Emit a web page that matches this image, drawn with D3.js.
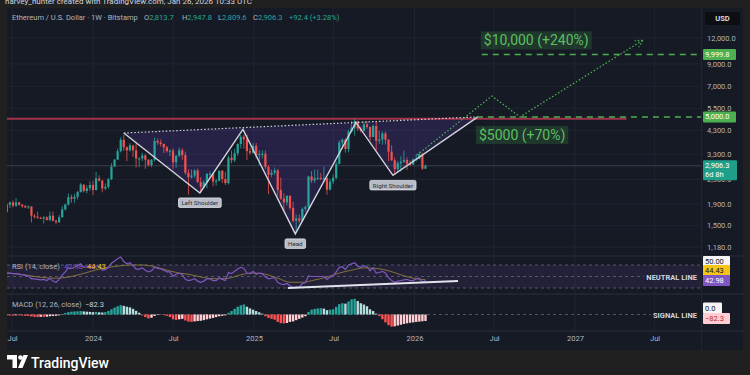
<!DOCTYPE html>
<html>
<head>
<meta charset="utf-8">
<script src="https://cdn.jsdelivr.net/npm/d3@7"></script>
<style>
  html, body { margin: 0; padding: 0; background: #202020; }
  svg { display: block; font-family: Roboto, 'Noto Sans', sans-serif; }
</style>
</head>
<body>
<svg id="chart" width="750" height="375"></svg>
<script>
// Weekly candles, ETH / USD on Bitstamp (open of each week = close of the week before)
var firstWeek = '2023-06-19';
var firstOpen = 1738;
var closes = [1888,1934,1869,1935,1890,1857,1830,1850,1670,1650,1630,1620,1640,1595,1670,1580,1555,1640,1790,1890,2050,2015,2060,2170,2360,2195,2265,2350,
  2220,2525,2465,2260,2300,2505,2880,3110,3420,3880,3570,3450,3645,3450,3150,3150,3260,3110,2930,3110,3830,3760,3700,3565,3420,3440,3020,3250,3450,3270,2690,2560,2610,2760,2430,2300,2420,2660,2660,2440,2460,2750,2510,2400,3180,3090,3340,3700,4010,3900,3420,3360,3630,
  3270,3310,3320,2870,2630,2690,2760,2220,2020,1935,2080,1820,1580,1620,1580,1800,1840,2580,2470,2530,2540,2510,2530,2230,2440,2540,2970,3760,3880,3500,4250,4440,4780,4390,4280,4600,4470,4000,4520,3830,3890,4160,3880,3400,3090,2800,2990,3040,3100,2970,2950,3120,
  3140,3300,2813.7,2906.3];
var highs = [1930,1955,1975,2030,1950,1890,1880,1870,1850,1700,1745,1650,1660,1660,1750,1745,1600,1680,1860,1910,2135,2110,2130,2200,2400,2360,2340,2445,
  2460,2715,2610,2490,2390,2540,2990,3130,3520,3990,4093,3600,3730,3660,3730,3200,3360,3320,3120,3130,3975,3930,3890,3720,3620,3480,3520,3260,3560,3540,3400,2800,2790,2800,2820,2560,2470,2670,2730,2680,2520,2760,2770,2720,3250,3440,3500,3730,4090,4110,4110,3550,3745,
  3745,3450,3450,3440,2930,2790,2850,2810,2550,2140,2100,2100,1950,1690,1690,1830,1870,2600,2740,2790,2790,2680,2880,2560,2520,2640,3050,3860,3940,3940,4330,4790,4880,4790,4490,4770,4770,4490,4590,4760,4290,4250,4250,3910,3650,3190,3070,3230,3440,3190,3080,3160,
  3300,3400,3350,2947.8];
var lows = [1728,1820,1830,1840,1860,1820,1815,1800,1550,1620,1615,1610,1530,1580,1570,1565,1520,1540,1640,1770,1870,1930,1930,2000,2160,2160,2140,2200,
  2100,2210,2440,2165,2215,2260,2480,2880,3110,3370,3430,3060,3400,3210,2850,2860,3060,2810,2880,2860,3050,3670,3600,3350,3360,3240,2810,2840,3200,3100,2630,2110,2520,2540,2400,2150,2250,2260,2550,2310,2330,2450,2400,2350,2360,2990,3030,3250,3520,3510,3100,3290,3320,
  3160,2920,3150,2800,2120,2560,2620,2080,1990,1750,1870,1780,1550,1385,1540,1560,1750,1790,2400,2400,2480,2480,2440,2110,2210,2370,2500,2950,3500,3360,3370,4200,4060,4270,4200,4270,4380,3820,4000,3440,3700,3680,3680,3060,3060,2620,2690,2720,3000,2780,2900,2930,
  3050,3120,2780,2809.6];

// RSI (14, close), one value per week, and its moving average read every 4th week
var rsiValues = [56,56,55,55,54,53,52,51,46,46,45,44,45,43,47,42,40,45,53,58,65,64,66,69,72,66,67,68,
  64,69,67,61,62,66,73,77,81,84,76,72,74,69,63,63,65,61,58,60,66,64,63,61,58,58,50,54,56,53,45,43,44,46,42,40,42,46,46,43,43,48,45,43,57,55,59,63,66,64,56,55,59,
  54,56,55,49,46,47,48,40,37,36,38,34,30,32,31,38,39,51,50,50,50,50,50,45,49,51,58,66,67,62,70,72,74,68,66,69,67,60,65,56,57,59,56,48,43,40,42,43,44,45,43,43,
  46,47,40,42.98];
var rsiMaWeeks = [0,4,8,12,16,20,24,28,32,36,40,44,48,52,56,60,64,68,72,76,80,84,88,92,96,100,104,108,112,116,120,124,128,132,136];
var rsiMaValues = [56,54,51,48,47,49,54,60,65,68,70,70,67,61,56,53,48,46,47,53,56,54,47,40,40,44,49,56,61,65,64,60,53,47,44.43];

// MACD (12, 26, close) histogram, one value per week
var macdHist = [-11,-14,-14,-11,-11,-14,-17,-19,-25,-30,-33,-30,-30,-28,-22,-19,-17,-11,6,19,30,36,39,41,44,39,36,33,
  30,33,28,25,30,44,66,88,105,119,110,99,91,72,47,22,-11,-33,-50,-41,-19,-6,-3,-8,-17,-33,-61,-69,-61,-55,-77,-91,-94,-88,-83,-80,-72,-61,-52,-44,-33,-22,-17,-11,22,44,72,99,116,127,99,77,61,
  44,28,11,-22,-44,-55,-66,-94,-110,-113,-108,-94,-88,-72,-55,-39,-22,33,61,72,77,80,75,55,61,66,97,132,143,138,166,193,199,171,143,127,105,66,44,11,-20,-60,-100,-135,-155,-150,-140,-130,-120,-112,-105,-100,
  -95,-90,-86,-82.3];

var priceTicks = [12000, 9000, 7000, 5500, 4300, 3300, 2500, 1900, 1500, 1180];
var timeTicks = ['2023-07-01','2024-01-01','2024-07-01','2025-01-01','2025-07-01','2026-01-01','2026-07-01','2027-01-01','2027-07-01'];

// Drawings on the chart (date, price)
var patternPoints = [['2024-03-11',4180],['2024-08-31',2150],['2024-12-07',4350],['2025-04-05',1365],['2025-08-21',4700],['2025-11-13',2612],['2026-05-25',5000]];
var patternLabels = [['Left Shoulder',1],['Head',3],['Right Shoulder',5]];
var projectionPoints = [['2026-01-07',3280],['2026-06-26',6300],['2026-08-29',5000],['2027-06-04',11700]];
var targetLevels = [10000, 5000];
var targetStarts = ['2026-06-03', '2026-05-23'];
var targetTexts = ['$10,000 (+240%)', '$5000 (+70%)'];
var resistanceLevel = 4900;
var resistanceEnd = '2027-04-28';
var rsiTrend = [['2025-03-19', 30], ['2026-04-10', 42.2]];
var lastPrice = 2906.3;

var parse = d3.utcParse('%Y-%m-%d');
var svg = d3.select('#chart');

var left = 7, right = 701, panelRight = 743;
var mainTop = 8, mainBottom = 256, rsiBottom = 294, macdBottom = 331, panelBottom = 350;

// scales
var x = d3.scaleUtc().domain([parse('2024-01-01'), parse('2027-01-01')]).range([93, 575]);
var y = d3.scaleLog().domain([1180, 12000]).range([247, 38]);
var yRsi = d3.scaleLinear().domain([30, 70]).range([288, 265]);
var yMacd = d3.scaleLinear().domain([0, 127]).range([314.5, 304.5]);

var start = parse(firstWeek);
var weeks = d3.utcMonday.range(start, d3.utcDay.offset(start, 7 * closes.length));
var candles = weeks.map(function(d, i) {
    return { date: d, open: i ? closes[i - 1] : firstOpen, high: highs[i], low: lows[i], close: closes[i] };
});

// background
svg.append('rect').attr('width', 750).attr('height', 375).attr('fill', '#202020');
svg.append('rect').attr('x', left).attr('y', mainTop).attr('width', panelRight - left)
    .attr('height', panelBottom - mainTop).attr('fill', '#161a25');

svg.append('text').attr('x', 5).attr('y', 3.5).attr('font-size', 8).attr('fill', '#d1d4dc')
    .text('harvey_hunter created with TradingView.com, Jan 26, 2026 10:33 UTC');

var defs = svg.append('defs');
defs.append('clipPath').attr('id', 'clipMain').append('rect')
    .attr('x', left).attr('y', mainTop).attr('width', right - left).attr('height', mainBottom - mainTop);
defs.append('clipPath').attr('id', 'clipRsi').append('rect')
    .attr('x', left).attr('y', mainBottom).attr('width', right - left).attr('height', rsiBottom - mainBottom);
defs.append('clipPath').attr('id', 'clipMacd').append('rect')
    .attr('x', left).attr('y', rsiBottom).attr('width', right - left).attr('height', macdBottom - rsiBottom);

// grid
var grid = svg.append('g').attr('stroke', '#1f2431').attr('stroke-width', 1);
grid.selectAll('.vgrid').data(timeTicks).enter().append('line')
    .attr('x1', d => x(parse(d))).attr('x2', d => x(parse(d)))
    .attr('y1', mainTop).attr('y2', macdBottom);
grid.selectAll('.hgrid').data(priceTicks).enter().append('line')
    .attr('x1', left).attr('x2', right).attr('y1', d => y(d)).attr('y2', d => y(d));

// pane separators
svg.selectAll('.sep').data([mainBottom, rsiBottom, macdBottom]).enter().append('line')
    .attr('x1', left).attr('x2', panelRight).attr('y1', d => d).attr('y2', d => d)
    .attr('stroke', '#2a2e39');
svg.append('line').attr('x1', right + 0.5).attr('x2', right + 0.5).attr('y1', mainTop).attr('y2', panelBottom)
    .attr('stroke', '#222633');

var main = svg.append('g').attr('clip-path', 'url(#clipMain)');

// last price line
main.append('line').attr('x1', left).attr('x2', right).attr('y1', y(lastPrice)).attr('y2', y(lastPrice))
    .attr('stroke', '#3a3f4d').attr('stroke-width', 1);

// head and shoulders fill
var pts = patternPoints.map(p => [x(parse(p[0])), y(p[1])]);
main.append('path').attr('d', d3.line()(pts) + 'Z').attr('fill', 'rgba(103,70,200,0.2)');

// resistance
main.append('line').attr('x1', left).attr('x2', x(parse(resistanceEnd)))
    .attr('y1', y(resistanceLevel)).attr('y2', y(resistanceLevel))
    .attr('stroke', '#a3324a').attr('stroke-width', 2);

// candles
var cg = main.append('g');
cg.selectAll('.wick').data(candles).enter().append('line')
    .attr('x1', d => x(d.date)).attr('x2', d => x(d.date))
    .attr('y1', d => y(d.high)).attr('y2', d => y(d.low))
    .attr('stroke', d => d.close >= d.open ? '#26a69a' : '#ef5350').attr('stroke-width', 0.8);
cg.selectAll('.body').data(candles).enter().append('rect')
    .attr('x', d => x(d.date) - 1.1).attr('width', 2.2)
    .attr('y', d => y(Math.max(d.open, d.close)))
    .attr('height', d => Math.max(1, Math.abs(y(d.open) - y(d.close))))
    .attr('fill', d => d.close >= d.open ? '#26a69a' : '#ef5350');

// pattern lines
main.append('path').attr('d', d3.line()([pts[0], pts[pts.length - 1]]))
    .attr('stroke', '#d1d4dc').attr('stroke-width', 1.2).attr('stroke-dasharray', '1.5,2').attr('fill', 'none');
main.append('path').attr('d', d3.line()(pts))
    .attr('stroke', '#d1d4dc').attr('stroke-width', 1.4).attr('fill', 'none');

// target levels
targetLevels.forEach(function(level, i) {
    main.append('line').attr('x1', x(parse(targetStarts[i]))).attr('x2', right)
        .attr('y1', y(level)).attr('y2', y(level))
        .attr('stroke', '#4caf50').attr('stroke-width', 1.5).attr('stroke-dasharray', '6,5');
});

// projected path
var proj = projectionPoints.map(p => [x(parse(p[0])), y(p[1])]);
main.append('path').attr('d', d3.line()(proj))
    .attr('stroke', '#4caf50').attr('stroke-width', 1.3).attr('stroke-dasharray', '1.5,2').attr('fill', 'none');
var tip = proj[proj.length - 1], prev = proj[proj.length - 2];
var ang = Math.atan2(tip[1] - prev[1], tip[0] - prev[0]);
[-0.5, 0.5].forEach(function(a) {
    main.append('line').attr('x1', tip[0]).attr('y1', tip[1])
        .attr('x2', tip[0] - 8 * Math.cos(ang + a)).attr('y2', tip[1] - 8 * Math.sin(ang + a))
        .attr('stroke', '#4caf50').attr('stroke-width', 1.3).attr('stroke-dasharray', '1.5,2');
});

// target labels
targetTexts.forEach(function(t, i) {
    var lx = x(parse(targetStarts[i])) - 1;
    var ly = i === 0 ? y(targetLevels[i]) - 14 : y(targetLevels[i]) + 18;
    var g = svg.append('g');
    var txt = g.append('text').attr('x', lx + 3).attr('y', ly + 5).attr('font-size', 14)
        .attr('fill', '#5cbf60').text(t);
    var w = txt.node().getComputedTextLength();
    g.insert('rect', 'text').attr('x', lx).attr('y', ly - 9).attr('width', w + 6).attr('height', 18)
        .attr('fill', 'rgba(76,175,80,0.2)');
});

// pattern labels
patternLabels.forEach(function(l) {
    var p = pts[l[1]];
    var g = svg.append('g');
    var txt = g.append('text').attr('x', p[0]).attr('y', p[1] + 12.2).attr('text-anchor', 'middle')
        .attr('font-size', 6.2).attr('fill', '#2a2e39').text(l[0]);
    var w = txt.node().getComputedTextLength();
    g.insert('rect', 'text').attr('x', p[0] - w / 2 - 3).attr('y', p[1] + 5).attr('width', w + 6).attr('height', 9.5)
        .attr('rx', 1.5).attr('fill', '#b9bcc4').attr('stroke', '#e0e3eb').attr('stroke-width', 0.8);
});

// RSI pane
var rsiG = svg.append('g').attr('clip-path', 'url(#clipRsi)');
rsiG.append('rect').attr('x', left).attr('width', right - left)
    .attr('y', yRsi(70)).attr('height', yRsi(30) - yRsi(70)).attr('fill', 'rgba(126,87,194,0.12)');
rsiG.selectAll('.band').data([70, 50, 30]).enter().append('line')
    .attr('x1', left).attr('x2', d => d === 50 ? 644 : right)
    .attr('y1', d => yRsi(d)).attr('y2', d => yRsi(d))
    .attr('stroke', '#787b86').attr('stroke-opacity', 0.6).attr('stroke-dasharray', '3,3');
rsiG.append('path').datum(rsiMaValues)
    .attr('d', d3.line().x((d, i) => x(weeks[rsiMaWeeks[i]])).y(d => yRsi(d)).curve(d3.curveMonotoneX))
    .attr('fill', 'none').attr('stroke', '#b3993a').attr('stroke-opacity', 0.75).attr('stroke-width', 0.9);
rsiG.append('path').datum(rsiValues)
    .attr('d', d3.line().x((d, i) => x(weeks[i])).y(d => yRsi(d)))
    .attr('fill', 'none').attr('stroke', '#7e57c2').attr('stroke-width', 1.2);
rsiG.append('line')
    .attr('x1', x(parse(rsiTrend[0][0]))).attr('y1', yRsi(rsiTrend[0][1]))
    .attr('x2', x(parse(rsiTrend[1][0]))).attr('y2', yRsi(rsiTrend[1][1]))
    .attr('stroke', '#e0e3eb').attr('stroke-width', 1.8);

var rsiTitle = svg.append('text').attr('x', 12).attr('y', 269).attr('font-size', 7.5).attr('fill', '#b2b5be');
rsiTitle.append('tspan').text('RSI (14, close) ');
rsiTitle.append('tspan').attr('x', 64).attr('fill', '#7e57c2').text(d3.format('.2f')(rsiValues[rsiValues.length - 1]));
rsiTitle.append('tspan').attr('x', 87).attr('fill', '#f5c518').text(d3.format('.2f')(rsiMaValues[rsiMaValues.length - 1]));

svg.append('text').attr('x', 697).attr('y', yRsi(50) + 3).attr('text-anchor', 'end')
    .attr('font-size', 7.5).attr('font-weight', 700).attr('fill', '#d1d4dc').text('NEUTRAL LINE');

// MACD pane
var macdG = svg.append('g').attr('clip-path', 'url(#clipMacd)');
macdG.append('line').attr('x1', left).attr('x2', 651).attr('y1', yMacd(0)).attr('y2', yMacd(0))
    .attr('stroke', '#787b86').attr('stroke-opacity', 0.6).attr('stroke-dasharray', '3,3');
macdG.selectAll('.hist').data(macdHist).enter().append('rect')
    .attr('x', (d, i) => x(weeks[i]) - 1.2).attr('width', 2.4)
    .attr('y', d => yMacd(Math.max(0, d)))
    .attr('height', d => Math.abs(yMacd(d) - yMacd(0)))
    .attr('fill', function(d, i) {
        var p = i ? macdHist[i - 1] : d;
        if (d >= 0) return d >= p ? '#26a69a' : '#b2dfdb';
        return d <= p ? '#ff5252' : '#ffcdd2';
    });

var macdTitle = svg.append('text').attr('x', 12).attr('y', 307).attr('font-size', 7.5).attr('fill', '#b2b5be');
macdTitle.append('tspan').text('MACD (12, 26, close)');
macdTitle.append('tspan').attr('x', 85).attr('fill', '#d1d4dc').text(d3.format('.1f')(macdHist[macdHist.length - 1]).replace('-', '\u2212'));

svg.append('text').attr('x', 697).attr('y', yMacd(0) + 3).attr('text-anchor', 'end')
    .attr('font-size', 7.5).attr('font-weight', 700).attr('fill', '#d1d4dc').text('SIGNAL LINE');

// axes
var xAxis = d3.axisBottom(x).tickValues(timeTicks.map(parse)).tickSize(0).tickPadding(4)
    .tickFormat(d => d.getUTCMonth() === 0 ? d.getUTCFullYear() : 'Jul');
svg.append('g').attr('transform', 'translate(0,' + (macdBottom + 1) + ')').call(xAxis)
    .call(g => g.select('.domain').remove())
    .selectAll('text').attr('font-size', 7.5).attr('fill', '#b2b5be').attr('font-family', 'Roboto, sans-serif');

var yAxis = d3.axisRight(y).tickValues(priceTicks).tickSize(0).tickPadding(0).tickFormat(d3.format(',.1f'));
svg.append('g').attr('transform', 'translate(707,0)').call(yAxis)
    .call(g => g.select('.domain').remove())
    .selectAll('text').attr('font-size', 7.5).attr('fill', '#b2b5be').attr('font-family', 'Roboto, sans-serif');

// price scale tags
function tag(yc, lines, bg, fg, w) {
    var h = lines.length * 9 + 2;
    var g = svg.append('g');
    g.append('rect').attr('x', 703).attr('y', yc - h / 2).attr('width', w).attr('height', h).attr('fill', bg).attr('rx', 1);
    lines.forEach(function(t, i) {
        g.append('text').attr('x', 705).attr('y', yc - h / 2 + 8 + i * 9).attr('font-size', 7.5)
            .attr('fill', fg).text(t);
    });
}
tag(y(targetLevels[0]), [d3.format(',.1f')(9999.8)], '#4caf50', '#ffffff', 33);
tag(y(targetLevels[1]), [d3.format(',.1f')(targetLevels[1])], '#4caf50', '#ffffff', 33);
tag(y(lastPrice) + 4.5, [d3.format(',.1f')(lastPrice), '6d 8h'], '#1f9f8a', '#ffffff', 34);
tag(261.5, ['50.00'], '#f5f5f5', '#131722', 27);
tag(270.5, [d3.format('.2f')(rsiMaValues[rsiMaValues.length - 1])], '#f5c518', '#131722', 27);
tag(280.5, [d3.format('.2f')(rsiValues[rsiValues.length - 1])], '#7e57c2', '#ffffff', 27);
tag(308, ['0.0'], '#f5f5f5', '#131722', 19);
tag(318.5, [d3.format('.1f')(macdHist[macdHist.length - 1]).replace('-', '\u2212')], '#ffcdd2', '#b22833', 27);

// USD button
svg.append('rect').attr('x', 705).attr('y', 12).attr('width', 35).attr('height', 13).attr('fill', '#0d0e12').attr('rx', 2);
svg.append('text').attr('x', 722.5).attr('y', 21).attr('text-anchor', 'middle').attr('font-size', 7.5)
    .attr('font-weight', 600).attr('fill', '#e0e3eb').text('USD');

// legend row
var hdr = svg.append('text').attr('y', 19.5).attr('font-size', 7.5).attr('fill', '#b2b5be');
hdr.append('tspan').attr('x', 12).text('Ethereum / U.S. Dollar \u00b7 1W \u00b7 Bitstamp');
var ohlc = [['O', '2,813.7', 144], ['H', '2,947.8', 182], ['L', '2,809.6', 218], ['C', '2,906.3', 253]];
ohlc.forEach(function(o) {
    hdr.append('tspan').attr('x', o[2]).attr('fill', '#b2b5be').text(o[0]);
    hdr.append('tspan').attr('fill', '#26a69a').text(o[1]);
});
hdr.append('tspan').attr('x', 289).attr('fill', '#26a69a').text('+92.4 (+3.28%)');

// TradingView logo
var logo = svg.append('g').attr('fill', '#ffffff');
logo.append('path').attr('d', 'M7,355 h10 v13 h-4.5 v-8.5 h-5.5 z');
logo.append('circle').attr('cx', 20.5).attr('cy', 357.5).attr('r', 2.3);
logo.append('path').attr('d', 'M23.5,355 h4.5 l-5.5,13 h-4.5 z');
svg.append('text').attr('x', 31).attr('y', 367.5).attr('font-size', 14).attr('font-weight', 500)
    .attr('fill', '#ffffff').text('TradingView');
</script>
</body>
</html>
